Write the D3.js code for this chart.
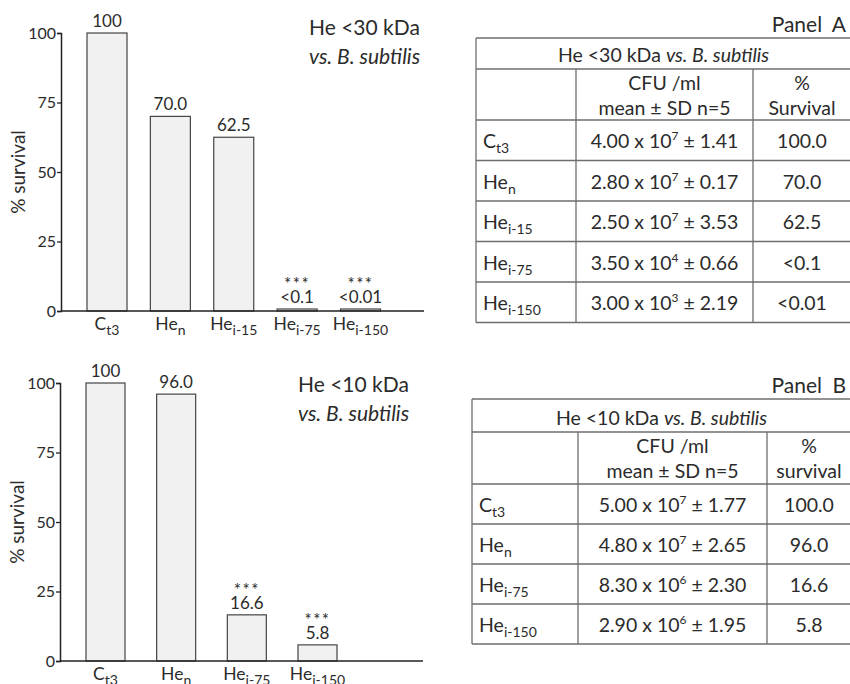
<!DOCTYPE html>
<html>
<head>
<meta charset="utf-8">
<style>
  body { margin: 0; background: #fff; }
  svg { font-family: Lato, "Open Sans", sans-serif; }
  text { fill: #2b2b2b; }
</style>
</head>
<body>
<svg width="850" height="684"></svg>
<script src="https://d3js.org/d3.v7.min.js"></script>
<script>
// ---- data ----
const topBase = ["C", "He", "He", "He", "He"];
const topSub = ["t3", "n", "i-15", "i-75", "i-150"];
const topValues = [100, 70.0, 62.5, 0.1, 0.01];
const topLabels = ["100", "70.0", "62.5", "<0.1", "<0.01"];
const topStars = ["", "", "", "***", "***"];

const botBase = ["C", "He", "He", "He"];
const botSub = ["t3", "n", "i-75", "i-150"];
const botValues = [100, 96.0, 16.6, 5.8];
const botLabels = ["100", "96.0", "16.6", "5.8"];
const botStars = ["", "", "***", "***"];

const yTicks = [0, 25, 50, 75, 100];

// table A
const tabAMant = ["4.00", "2.80", "2.50", "3.50", "3.00"];
const tabAExp = ["7", "7", "7", "4", "3"];
const tabASD = ["1.41", "0.17", "3.53", "0.66", "2.19"];
const tabASurv = ["100.0", "70.0", "62.5", "<0.1", "<0.01"];
// table B
const tabBMant = ["5.00", "4.80", "8.30", "2.90"];
const tabBExp = ["7", "7", "6", "6"];
const tabBSD = ["1.77", "2.65", "2.30", "1.95"];
const tabBSurv = ["100.0", "96.0", "16.6", "5.8"];

let svg = d3.select("svg");

// text with subscript
function subText(sel, base, sub, size, subSize, shift) {
    sel.append("tspan").text(base).style("font-size", size + "px");
    sel.append("tspan").text(sub).attr("dy", shift).style("font-size", subSize + "px");
}

function barChart(o) {
    let g = svg.append("g");
    let x = d3.scalePoint().domain(o.sub).range(o.xr);
    let y = d3.scaleLinear().domain([0, 100]).range(o.yr);
    let top = d => Math.min(y(d), y(0) - 2);

    // bars
    g.selectAll(".bar")
        .data(o.values)
        .join("rect")
        .attr("x", (d, i) => x(o.sub[i]) - o.bw / 2)
        .attr("width", o.bw)
        .attr("y", top)
        .attr("height", d => y(0) - top(d))
        .style("fill", "#f1f1f1")
        .style("stroke", "#444")
        .style("stroke-width", 1.2);

    // y axis
    let ya = g.append("g")
        .attr("transform", `translate(${o.ax},0)`)
        .call(d3.axisLeft(y).tickValues(yTicks).tickSize(4).tickPadding(1));
    ya.select(".domain").style("stroke", "#222").style("stroke-width", 1.5);
    ya.selectAll(".tick line").style("stroke", "#222").style("stroke-width", 1.3);
    ya.selectAll(".tick text").style("font-size", "16px").style("font-family", "Lato").style("fill", "#2b2b2b");

    // x axis line
    g.append("line")
        .attr("x1", o.ax).attr("x2", o.axEnd)
        .attr("y1", y(0)).attr("y2", y(0))
        .style("stroke", "#222").style("stroke-width", 1.5);

    // x labels
    o.sub.forEach((s, i) => {
        let t = g.append("text")
            .attr("x", x(s))
            .attr("y", y(0) + 19)
            .attr("text-anchor", "middle");
        subText(t, o.base[i], s, 17.5, 14, 5);
    });

    // value labels
    g.selectAll(".val")
        .data(o.values)
        .join("text")
        .attr("x", (d, i) => x(o.sub[i]))
        .attr("y", d => top(d) - 6)
        .attr("text-anchor", "middle")
        .style("font-size", "17px")
        .text((d, i) => o.labels[i]);

    // significance stars
    g.selectAll(".star")
        .data(o.values)
        .join("text")
        .attr("x", (d, i) => x(o.sub[i]))
        .attr("y", d => top(d) - 19)
        .attr("text-anchor", "middle")
        .style("font-size", "17px")
        .style("letter-spacing", "1.5px")
        .text((d, i) => o.stars[i]);

    // y title
    g.append("text")
        .attr("transform", `translate(${o.ax - 36},${(o.yr[0] + o.yr[1]) / 2}) rotate(-90)`)
        .attr("text-anchor", "middle")
        .style("font-size", "19px")
        .text("% survival");

    // chart title
    g.append("text").attr("x", o.tx).attr("y", o.ty)
        .style("font-size", "21px").text(o.title);
    g.append("text").attr("x", o.tx).attr("y", o.ty + 29)
        .style("font-size", "21px").style("font-style", "italic").text("vs. B. subtilis");
}

barChart({
    base: topBase, sub: topSub, values: topValues, labels: topLabels, stars: topStars,
    xr: [107, 360.5], yr: [311, 33], bw: 40, ax: 61, axEnd: 424,
    title: "He <30 kDa", tx: 309, ty: 35
});
barChart({
    base: botBase, sub: botSub, values: botValues, labels: botLabels, stars: botStars,
    xr: [105.5, 317.5], yr: [661, 383], bw: 39, ax: 60, axEnd: 423,
    title: "He <10 kDa", tx: 298, ty: 392
});

function table(o) {
    let g = svg.append("g");
    let n = o.mant.length;
    let rowsY = [o.top, o.top + o.titleH, o.top + o.titleH + o.headH];
    for (let i = 1; i <= n; i++) rowsY.push(rowsY[2] + i * o.rowH);
    let bottom = rowsY[rowsY.length - 1];
    let lc = "#6e6e6e";

    // horizontal lines
    g.selectAll(".hl").data(rowsY).join("line")
        .attr("x1", o.cols[0]).attr("x2", o.cols[3])
        .attr("y1", d => d).attr("y2", d => d)
        .style("stroke", lc).style("stroke-width", 1.3);
    // vertical lines
    g.append("line").attr("x1", o.cols[0]).attr("x2", o.cols[0]).attr("y1", o.top).attr("y2", bottom)
        .style("stroke", lc).style("stroke-width", 1.3);
    [1, 2].forEach(c => {
        g.append("line").attr("x1", o.cols[c]).attr("x2", o.cols[c]).attr("y1", rowsY[1]).attr("y2", bottom)
            .style("stroke", lc).style("stroke-width", 1.3);
    });
    g.append("line").attr("x1", o.cols[3]).attr("x2", o.cols[3]).attr("y1", o.top).attr("y2", bottom)
        .style("stroke", lc).style("stroke-width", 1.3);

    let fs = 19.5;
    let midAll = (o.cols[0] + o.cols[3]) / 2;
    let mid1 = (o.cols[1] + o.cols[2]) / 2;
    let mid2 = (o.cols[2] + o.cols[3]) / 2;

    // panel label
    g.append("text").attr("x", 846).attr("y", o.top - 6).attr("text-anchor", "end")
        .style("font-size", "21px").style("word-spacing", "5px").text(o.panel);

    // title row
    let t = g.append("text").attr("x", midAll).attr("y", o.top + o.titleH - 7)
        .attr("text-anchor", "middle").style("font-size", fs + "px");
    t.append("tspan").text(o.title + " ");
    t.append("tspan").style("font-style", "italic").text("vs. B. subtilis");

    // header
    g.append("text").attr("x", mid1).attr("y", rowsY[1] + 21).attr("text-anchor", "middle")
        .style("font-size", fs + "px").text("CFU /ml");
    g.append("text").attr("x", mid1).attr("y", rowsY[1] + 46).attr("text-anchor", "middle")
        .style("font-size", fs + "px").text("mean ± SD n=5");
    g.append("text").attr("x", mid2).attr("y", rowsY[1] + 21).attr("text-anchor", "middle")
        .style("font-size", fs + "px").text("%");
    g.append("text").attr("x", mid2).attr("y", rowsY[1] + 46).attr("text-anchor", "middle")
        .style("font-size", fs + "px").text(o.survHead);

    // data rows
    for (let i = 0; i < n; i++) {
        let by = rowsY[2 + i] + 28;
        let l = g.append("text").attr("x", o.cols[0] + 7).attr("y", by);
        subText(l, o.base[i], o.sub[i], fs, 14, 5);

        let c = g.append("text").attr("x", mid1).attr("y", by).attr("text-anchor", "middle")
            .style("font-size", fs + "px");
        c.append("tspan").text(o.mant[i] + " x 10");
        c.append("tspan").attr("dy", -8).style("font-size", "12px").text(o.exp[i]);
        c.append("tspan").attr("dy", 8).text(" ± " + o.sd[i]);

        g.append("text").attr("x", mid2).attr("y", by).attr("text-anchor", "middle")
            .style("font-size", fs + "px").text(o.surv[i]);
    }
}

table({
    panel: "Panel A", title: "He <30 kDa", survHead: "Survival",
    top: 38, titleH: 31, headH: 51, rowH: 40.5,
    cols: [476, 576, 753, 851],
    base: topBase, sub: topSub, mant: tabAMant, exp: tabAExp, sd: tabASD, surv: tabASurv
});
table({
    panel: "Panel B", title: "He <10 kDa", survHead: "survival",
    top: 399, titleH: 33, headH: 52, rowH: 40,
    cols: [472, 578, 767, 851],
    base: botBase, sub: botSub, mant: tabBMant, exp: tabBExp, sd: tabBSD, surv: tabBSurv
});
</script>
</body>
</html>
